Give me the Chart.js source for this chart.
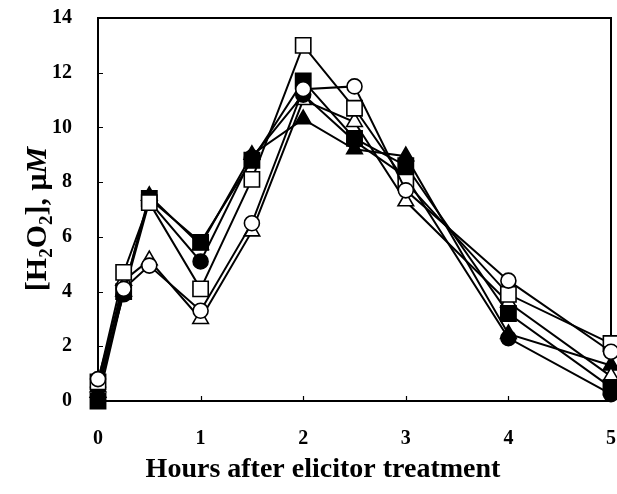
<!DOCTYPE html>
<html>
<head>
<meta charset="utf-8">
<script src="https://cdn.jsdelivr.net/npm/chart.js@4.4.1/dist/chart.umd.min.js"></script>
<style>
  html, body { margin: 0; padding: 0; background: #fff; }
  #wrap { width: 617px; height: 494px; }
</style>
</head>
<body>
<div id="wrap"><canvas id="chart" width="617" height="494"></canvas></div>
<script>
// hours after treatment
const hours = [0, 0.25, 0.5, 1, 1.5, 2, 2.5, 3, 4, 5];

const filledSquare   = [0.0, 4.0, 7.4, 5.8, 8.8, 11.7, 9.6, 8.6, 3.2, 0.5];
const openSquare     = [0.7, 4.7, 7.25, 4.1, 8.1, 13.0, 10.7, 8.0, 3.9, 2.1];
const filledCircle   = [0.5, 3.9, 7.3, 5.1, 8.9, 11.2, 9.5, 8.2, 2.3, 0.25];
const openCircle     = [0.8, 4.1, 4.95, 3.3, 6.5, 11.4, 11.5, 7.7, 4.4, 1.8];
const filledTriangle = [0.3, 4.0, 7.5, 5.7, 9.0, 10.3, 9.2, 8.95, 2.45, 1.3];
const openTriangle   = [0.5, 4.4, 5.15, 3.0, 6.2, 11.0, 10.2, 7.3, 3.6, 0.9];

const yTicks = [0, 2, 4, 6, 8, 10, 12, 14];
const xTicks = [0, 1, 2, 3, 4, 5];

const pts = arr => arr.map((v, i) => ({ x: hours[i], y: v }));

function series(arr, style, filled, radius) {
    return {
        data: pts(arr),
        borderColor: '#000',
        borderWidth: 2,
        pointStyle: style,
        pointRadius: radius,
        pointBorderWidth: 1.6,
        pointBorderColor: '#000',
        pointBackgroundColor: filled ? '#000' : '#fff',
        tension: 0,
        fill: false,
        clip: false
    };
}

// dataset 0 is drawn on top
const datasets = [
    series(openCircle, 'circle', false, 7.5),
    series(openSquare, 'rect', false, 10.8),
    series(filledSquare, 'rect', true, 10.8),
    series(filledCircle, 'circle', true, 7.5),
    series(openTriangle, 'triangle', false, 9),
    series(filledTriangle, 'triangle', true, 9)
];

const SERIF = '"Liberation Serif", "Times New Roman", serif';

const framePlugin = {
    id: 'frame',
    beforeDatasetsDraw(chart) {
        const ctx = chart.ctx;
        const a = chart.chartArea;
        const xs = chart.scales.x, ys = chart.scales.y;
        ctx.save();
        ctx.strokeStyle = '#000';
        ctx.lineWidth = 2;
        ctx.strokeRect(a.left, a.top, a.right - a.left, a.bottom - a.top);
        ctx.lineWidth = 1.2;
        ctx.beginPath();
        yTicks.forEach(t => {
            const y = Math.round(ys.getPixelForValue(t)) + 0.5;
            ctx.moveTo(a.left, y);
            ctx.lineTo(a.left + 5, y);
        });
        xTicks.forEach(t => {
            const x = Math.round(xs.getPixelForValue(t)) + 0.5;
            ctx.moveTo(x, a.bottom);
            ctx.lineTo(x, a.bottom - 5);
        });
        ctx.stroke();

        // x title
        ctx.fillStyle = '#000';
        ctx.font = 'bold 28px ' + SERIF;
        ctx.textAlign = 'center';
        ctx.textBaseline = 'alphabetic';
        ctx.fillText('Hours after elicitor treatment', 323, 477);

        // y title with subscripts and italic M
        const parts = [
            { t: '[H', f: 'bold 30px ', dy: 0 },
            { t: '2', f: 'bold 19px ', dy: 6 },
            { t: 'O', f: 'bold 30px ', dy: 0 },
            { t: '2', f: 'bold 19px ', dy: 6 },
            { t: '], \u03bc', f: 'bold 30px ', dy: 0 },
            { t: 'M', f: 'italic bold 30px ', dy: 0 }
        ];
        let total = 0;
        parts.forEach(p => { ctx.font = p.f + SERIF; p.w = ctx.measureText(p.t).width; total += p.w; });
        ctx.translate(46, 219);
        ctx.rotate(-Math.PI / 2);
        ctx.textAlign = 'left';
        let x = -total / 2;
        parts.forEach(p => {
            ctx.font = p.f + SERIF;
            ctx.fillText(p.t, x, p.dy);
            x += p.w;
        });
        ctx.restore();
    }
};

// drop the label overhang padding so the plot box sits where the layout says
function noPad(s) {
    s.paddingTop = 0;
    s.paddingBottom = 0;
    s.paddingLeft = 0;
    s.paddingRight = 0;
}

new Chart(document.getElementById('chart'), {
    type: 'line',
    data: { datasets: datasets },
    options: {
        responsive: false,
        animation: false,
        layout: { autoPadding: false, padding: { left: 0, right: 6, top: 18, bottom: 0 } },
        plugins: {
            legend: { display: false },
            tooltip: { enabled: false }
        },
        scales: {
            x: {
                type: 'linear',
                min: 0,
                max: 5,
                afterBuildTicks: s => { s.ticks = xTicks.map(v => ({ value: v })); },
                afterFit: s => { s.height = 93; noPad(s); },
                grid: { display: false },
                border: { display: false },
                ticks: {
                    color: '#000',
                    padding: 18,
                    maxRotation: 0,
                    font: { family: SERIF, size: 20, weight: 'bold' }
                }
            },
            y: {
                min: 0,
                max: 14,
                afterBuildTicks: s => { s.ticks = yTicks.map(v => ({ value: v })); },
                afterFit: s => { s.width = 98; noPad(s); },
                grid: { display: false },
                border: { display: false },
                ticks: {
                    color: '#000',
                    padding: 18,
                    font: { family: SERIF, size: 20, weight: 'bold' }
                }
            }
        }
    },
    plugins: [framePlugin]
});
</script>
</body>
</html>
